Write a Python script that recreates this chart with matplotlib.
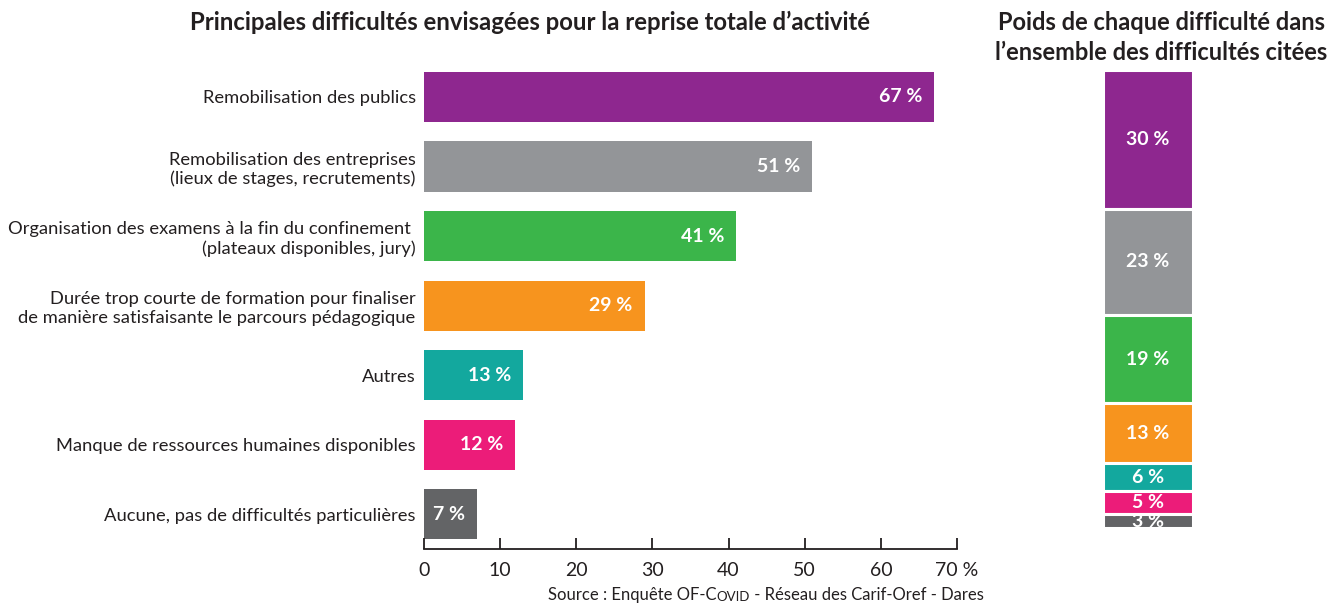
import matplotlib.pyplot as plt
import numpy as np

plt.rcParams['font.family'] = ['Lato', 'DejaVu Sans']

# left chart
labels = ['Remobilisation des publics',
          'Remobilisation des entreprises\n(lieux de stages, recrutements)',
          'Organisation des examens à la fin du confinement \n(plateaux disponibles, jury)',
          'Durée trop courte de formation pour finaliser\nde manière satisfaisante le parcours pédagogique',
          'Autres',
          'Manque de ressources humaines disponibles',
          'Aucune, pas de difficultés particulières']
values = [67, 51, 41, 29, 13, 12, 7]
colors = ['#8E278F', '#939598', '#3BB54A', '#F7941E', '#13A89E', '#EC1C79', '#636466']

# right chart (poids de chaque difficulte)
weights = [30, 23, 19, 13, 6, 5, 3]

xticks = [0, 10, 20, 30, 40, 50, 60, 70]
xticklabels = ['0', '10', '20', '30', '40', '50', '60', '70 %']

txt = '#231F20'

fig = plt.figure(figsize=(13.43, 6.08), dpi=100)

#--- horizontal bars
ax = fig.add_axes([424/1343, 1-549/608, 533/1343, 484/608])
y = np.arange(len(values))
ax.barh(y, values, height=0.72, color=colors)
ax.set_xlim(0, 70)
ax.set_ylim(6.5, -0.46)
for s in ['top', 'right', 'left']:
    ax.spines[s].set_visible(False)
ax.spines['bottom'].set_linewidth(1.3)
ax.spines['bottom'].set_color(txt)
ax.set_xticks(xticks)
ax.set_xticklabels(xticklabels)
ax.tick_params(axis='x', direction='in', length=8, width=1.3, color=txt,
               labelsize=14, labelcolor=txt, pad=9)
ax.set_yticks(y)
ax.set_yticklabels(labels, fontsize=13.2, color=txt, ha='right', linespacing=1.2)
ax.tick_params(axis='y', length=0, pad=6)
for i, v in enumerate(values):
    ax.text(v - 1.6, i, f'{v} %', ha='right', va='center', color='white',
            fontsize=14, fontweight='bold')

fig.text(530/1343, 1-22/608, 'Principales difficultés envisagées pour la reprise totale d’activité',
         ha='center', va='center', fontsize=17.2, fontweight='bold', color=txt)

# source line with small caps "Covid"
t1 = fig.text(548/1343, 1-600/608, 'Source : Enquête OF-C', ha='left', va='baseline',
              fontsize=12, color=txt)
t2 = ax.annotate('OVID', xy=(1, 0), xycoords=t1, ha='left', va='bottom',
                 fontsize=9.5, color=txt, annotation_clip=False)
ax.annotate(' - Réseau des Carif-Oref - Dares', xy=(1, 0), xycoords=t2, ha='left',
            va='bottom', fontsize=12, color=txt, annotation_clip=False)

#--- stacked bar
ax2 = fig.add_axes([1103/1343, 1-528/608, 90/1343, 458/608])
ax2.set_xlim(0, 1)
ax2.set_ylim(sum(weights), 0)
ax2.axis('off')
bottom = 0
for w, c in zip(weights, colors):
    bars = ax2.bar(0.5, w, width=1, bottom=bottom, color=c, edgecolor='white', linewidth=2.2)
    t = ax2.text(0.5, bottom + w/2, f'{w} %', ha='center', va='center', color='white',
                 fontsize=14, fontweight='bold')
    t.set_clip_path(bars[0])
    bottom += w

fig.text(1161/1343, 1-22/608, 'Poids de chaque difficulté dans', ha='center', va='center',
         fontsize=17, fontweight='bold', color=txt)
fig.text(1161/1343, 1-52/608, 'l’ensemble des difficultés citées', ha='center', va='center',
         fontsize=17, fontweight='bold', color=txt)

fig.savefig('out.png', dpi=100)
